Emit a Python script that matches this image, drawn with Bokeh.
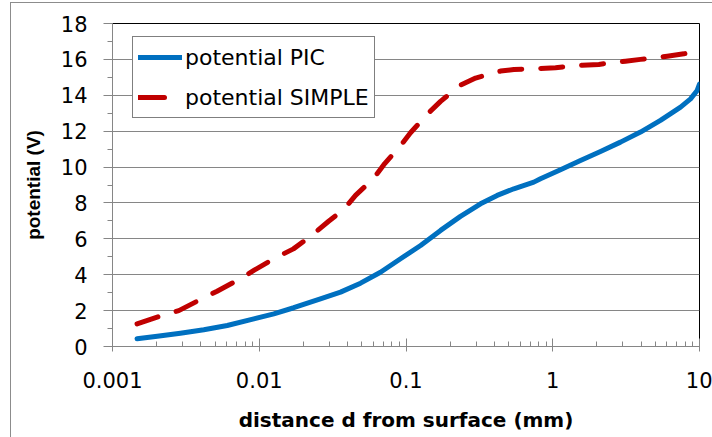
from bokeh.plotting import figure
from bokeh.models import (FixedTicker, SingleIntervalTicker, CustomJSTickFormatter,
                          Legend, LegendItem, Range1d, ColumnDataSource)
from bokeh.layouts import column
from bokeh.embed import file_html
from bokeh.resources import INLINE

# ---- data ----
pic_x = [0.00147, 0.00202, 0.0029, 0.00419, 0.00605, 0.00918, 0.01257, 0.01718,
         0.0261, 0.0358, 0.049, 0.067, 0.0918, 0.1257, 0.172, 0.235, 0.322,
         0.418, 0.543, 0.743, 0.825, 1.129, 1.545, 2.116, 2.895, 3.963, 5.42,
         7.43, 8.69, 9.64, 10.0]
pic_y = [0.43, 0.57, 0.74, 0.93, 1.17, 1.54, 1.82, 2.16,
         2.66, 3.03, 3.53, 4.14, 4.89, 5.63, 6.47, 7.25, 7.95,
         8.42, 8.79, 9.16, 9.35, 9.85, 10.37, 10.87, 11.39, 11.95, 12.6,
         13.34, 13.8, 14.27, 14.62]

simple_x = [0.00147, 0.00218, 0.00283, 0.00398, 0.00516, 0.00726, 0.00918, 0.0129,
            0.0171, 0.0223, 0.0297, 0.0377, 0.0453, 0.0603, 0.0706, 0.0927, 0.1073,
            0.143, 0.172, 0.233, 0.298, 0.441, 0.543, 1.044, 1.588, 2.06, 3.13,
            3.963, 6.03, 7.82, 10.0]
simple_y = [1.26, 1.73, 2.00, 2.62, 3.08, 3.73, 4.24, 4.94,
            5.44, 6.13, 6.98, 7.64, 8.42, 9.38, 10.13, 11.24, 11.91,
            13.03, 13.66, 14.55, 14.96, 15.35, 15.44, 15.53, 15.68, 15.72, 15.9,
            16.0, 16.18, 16.31, 16.5]

x_major = [0.001, 0.01, 0.1, 1, 10]
x_minor = [m * d for d in [0.001, 0.01, 0.1, 1] for m in range(2, 10)]

series_labels = ["potential PIC", "potential SIMPLE"]
x_label = "distance d from surface (mm)"
y_label = "potential (V)"

GRAY = "#868686"
BLUE = "#0070C0"
RED = "#C00000"

p = figure(width=701, height=434, x_axis_type="log",
           x_range=Range1d(0.001, 10), y_range=Range1d(0, 18),
           output_backend="svg", toolbar_location=None,
           min_border_left=101, min_border_right=13,
           min_border_top=20, min_border_bottom=91,
           background_fill_color="white", border_fill_color="white")

p.outline_line_color = "black"
p.outline_line_width = 1
p.xgrid.visible = False
p.ygrid.grid_line_color = GRAY
p.ygrid.grid_line_width = 1

r1 = p.line(pic_x, pic_y, line_color=BLUE, line_width=5,
            line_cap="round", line_join="round")
r2 = p.line(simple_x, simple_y, line_color=RED, line_width=5,
            line_cap="round", line_join="round", line_dash="22 19")

# legend proxy for the dashed series (single dash sample like the reference);
# it holds no drawable point
r2_leg = p.line(x="x", y="y",
                source=ColumnDataSource(data=dict(x=[float("nan")], y=[float("nan")])),
                line_color=RED, line_width=5, line_cap="round", line_dash="26 60")

# x axis
xa = p.xaxis[0]
xa.ticker = FixedTicker(ticks=x_major, minor_ticks=x_minor)
xa.formatter = CustomJSTickFormatter(code="return tick.toString();")
xa.axis_line_color = GRAY
xa.major_tick_line_color = GRAY
xa.minor_tick_line_color = GRAY
xa.major_tick_in = 8
xa.major_tick_out = 5
xa.minor_tick_in = 5
xa.minor_tick_out = 0
xa.major_label_text_font = "DejaVu Sans"
xa.major_label_text_font_size = "21px"
xa.major_label_text_color = "black"
xa.major_label_standoff = 20
xa.axis_label = x_label
xa.axis_label_text_font = "DejaVu Sans"
xa.axis_label_text_font_style = "bold"
xa.axis_label_text_font_size = "20px"
xa.axis_label_text_color = "black"
xa.axis_label_standoff = 17

# y axis
ya = p.yaxis[0]
ya.ticker = SingleIntervalTicker(interval=2, num_minor_ticks=2)
ya.axis_line_color = GRAY
ya.major_tick_line_color = GRAY
ya.minor_tick_line_color = GRAY
ya.major_tick_in = 0
ya.major_tick_out = 9
ya.minor_tick_in = 0
ya.minor_tick_out = 5
ya.major_label_text_font = "DejaVu Sans"
ya.major_label_text_font_size = "21px"
ya.major_label_text_color = "black"
ya.major_label_standoff = 16
ya.axis_label = y_label
ya.axis_label_text_font = "Liberation Sans"
ya.axis_label_text_font_style = "bold"
ya.axis_label_text_font_size = "19px"
ya.axis_label_text_color = "black"
ya.axis_label_standoff = 14

legend = Legend(items=[LegendItem(label=series_labels[0], renderers=[r1]),
                       LegendItem(label=series_labels[1], renderers=[r2_leg])],
                location=(20, 228), orientation="vertical",
                padding=5, spacing=10, margin=0,
                glyph_width=44, glyph_height=30, label_height=30,
                label_standoff=3,
                label_text_font="DejaVu Sans", label_text_font_size="22px",
                label_text_color="black",
                border_line_color="black", border_line_width=1,
                background_fill_color="white", background_fill_alpha=1.0)
p.add_layout(legend)

layout = column(p, styles={"border": "1px solid #8c8c8c",
                           "margin-left": "10px", "margin-top": "2px"})

open("out.html", "w").write(file_html(layout, INLINE))
